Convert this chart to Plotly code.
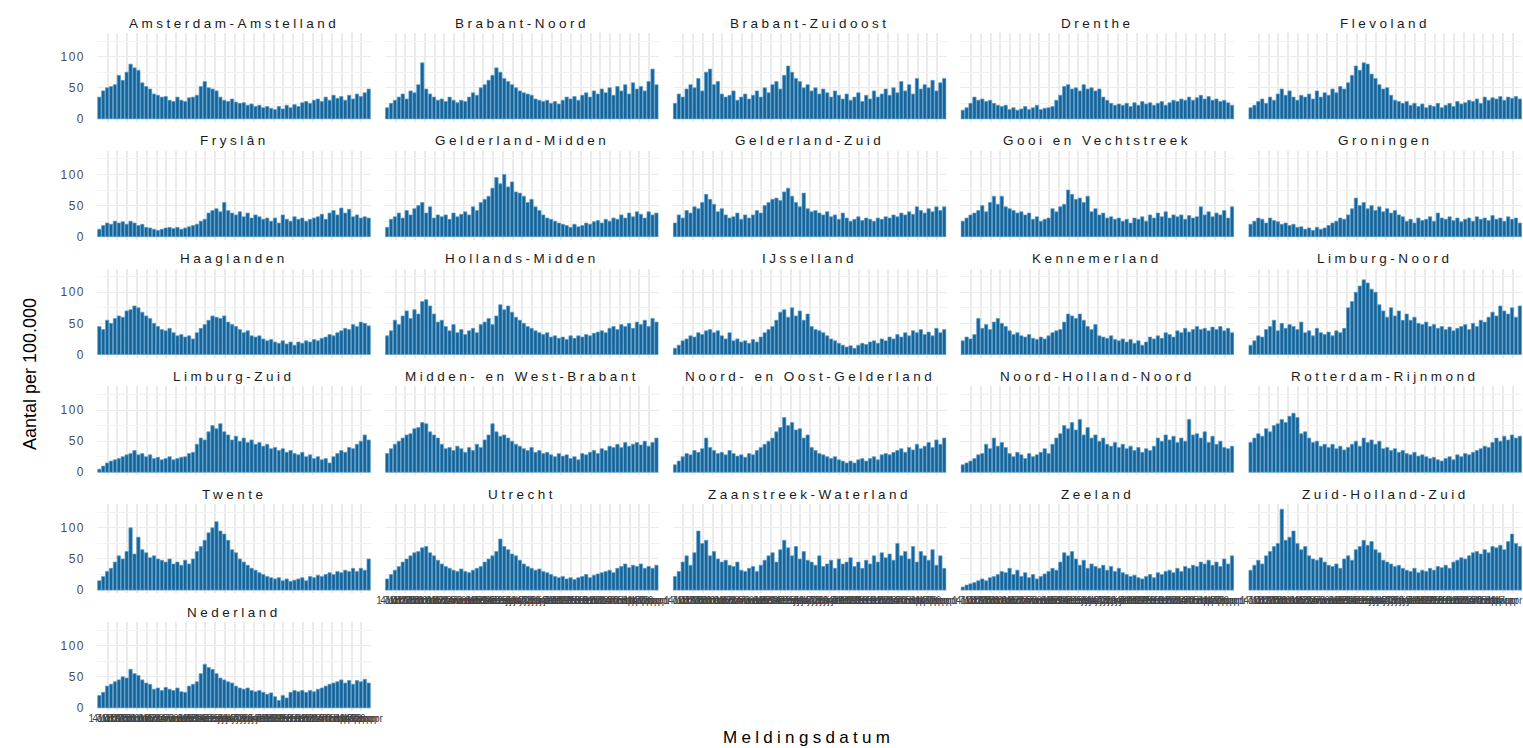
import datetime
import plotly.graph_objects as go

# ---------------- data (Aantal per 100.000, one bar per 3 days) ----------------
MAANDEN = ["jan", "feb", "mrt", "apr", "mei", "jun", "jul", "aug", "sep", "okt", "nov", "dec"]
START = datetime.date(2020, 10, 1)
N_DAYS = 70
datums = [START + datetime.timedelta(days=3 * i) for i in range(N_DAYS)]
tick_labels = [f"{d.day} {MAANDEN[d.month - 1]}" for d in datums]

amsterdam_amstelland = [35, 45, 50, 52, 55, 70, 62, 75, 88, 82, 78, 58, 52, 48, 40, 38, 35, 36, 30, 28,
                        35, 30, 28, 34, 35, 38, 52, 60, 50, 48, 45, 35, 30, 28, 32, 27, 25, 26, 22, 24,
                        20, 22, 18, 20, 17, 15, 20, 16, 22, 18, 23, 20, 26, 28, 25, 30, 32, 28, 35, 30,
                        38, 33, 36, 30, 38, 32, 40, 36, 42, 48]
brabant_noord = [18, 25, 30, 35, 40, 32, 45, 42, 55, 90, 48, 40, 35, 30, 32, 28, 35, 30, 26, 30,
                 28, 35, 42, 38, 50, 55, 62, 70, 82, 75, 65, 60, 55, 50, 45, 42, 40, 38, 32, 30,
                 28, 30, 25, 28, 24, 30, 35, 32, 36, 30, 38, 42, 35, 45, 40, 48, 42, 50, 38, 52,
                 45, 55, 40, 58, 48, 52, 45, 60, 80, 55]
brabant_zuidoost = [25, 40, 35, 48, 55, 50, 65, 45, 75, 80, 55, 60, 40, 35, 38, 45, 30, 35, 40, 32,
                    38, 45, 35, 50, 42, 55, 60, 48, 70, 85, 75, 65, 60, 50, 55, 45, 50, 40, 48, 42,
                    35, 45, 38, 32, 40, 30, 35, 42, 28, 38, 32, 45, 35, 40, 48, 38, 50, 42, 60, 45,
                    55, 40, 65, 48, 55, 50, 62, 45, 58, 65]
drenthe = [14, 18, 25, 35, 30, 32, 28, 30, 25, 22, 20, 22, 15, 18, 14, 16, 20, 15, 18, 22,
           15, 17, 18, 20, 30, 38, 52, 55, 48, 50, 45, 55, 48, 50, 45, 48, 35, 30, 25, 22,
           24, 22, 25, 20, 26, 22, 28, 24, 26, 22, 25, 28, 22, 26, 30, 28, 32, 30, 35, 30,
           34, 38, 32, 36, 30, 32, 28, 30, 26, 22]
flevoland = [18, 22, 28, 32, 25, 35, 30, 40, 48, 38, 45, 35, 30, 38, 35, 40, 32, 45, 35, 42,
             38, 48, 42, 52, 48, 58, 70, 85, 78, 90, 88, 72, 65, 55, 48, 50, 38, 30, 28, 25,
             28, 22, 25, 20, 24, 18, 22, 20, 25, 18, 22, 25, 20, 28, 24, 26, 30, 28, 32, 25,
             35, 30, 34, 32, 36, 30, 35, 33, 36, 32]
fryslan = [12, 18, 22, 20, 25, 22, 24, 20, 25, 22, 18, 20, 15, 14, 12, 10, 12, 14, 15, 13,
           15, 12, 14, 16, 18, 20, 25, 28, 38, 42, 45, 40, 55, 42, 38, 35, 40, 32, 38, 30,
           35, 32, 28, 30, 25, 30, 22, 35, 28, 25, 32, 28, 30, 25, 28, 30, 32, 36, 28, 38,
           42, 35, 46, 38, 44, 32, 35, 30, 32, 30]
gelderland_midden = [15, 28, 32, 38, 30, 42, 35, 45, 50, 55, 38, 48, 30, 35, 32, 35, 28, 38, 32, 36,
                     40, 35, 48, 42, 55, 60, 65, 78, 95, 85, 100, 80, 88, 72, 70, 65, 55, 60, 48, 42,
                     35, 30, 28, 25, 22, 20, 18, 15, 20, 16, 18, 22, 20, 24, 26, 22, 28, 25, 30, 28,
                     35, 30, 38, 32, 40, 36, 30, 40, 35, 38]
gelderland_zuid = [22, 35, 30, 42, 38, 48, 45, 55, 68, 60, 52, 40, 45, 35, 30, 32, 38, 28, 35, 30,
                   35, 42, 38, 50, 55, 60, 62, 58, 72, 78, 65, 55, 48, 70, 45, 40, 42, 38, 35, 40,
                   32, 35, 28, 38, 30, 25, 28, 32, 26, 30, 28, 25, 30, 28, 32, 30, 35, 32, 38, 35,
                   40, 36, 48, 42, 38, 45, 40, 48, 42, 48]
gooi_en_vechtstreek = [25, 30, 35, 38, 42, 50, 40, 55, 65, 52, 65, 48, 45, 42, 38, 40, 35, 38, 28, 32,
                       25, 28, 30, 45, 40, 48, 52, 75, 68, 60, 62, 55, 65, 40, 45, 35, 38, 30, 32, 28,
                       30, 25, 28, 22, 30, 28, 32, 25, 35, 30, 38, 32, 40, 30, 35, 32, 35, 28, 34, 30,
                       32, 48, 35, 40, 32, 38, 35, 42, 30, 48]
groningen = [20, 25, 30, 28, 22, 30, 26, 24, 20, 22, 18, 20, 15, 16, 12, 14, 10, 15, 12, 14,
             18, 22, 25, 30, 28, 35, 45, 62, 50, 55, 45, 50, 42, 48, 40, 45, 38, 42, 35, 32,
             25, 28, 22, 30, 26, 28, 32, 25, 38, 30, 28, 32, 26, 30, 24, 28, 30, 25, 32, 28,
             30, 26, 34, 28, 30, 25, 32, 28, 30, 22]
haaglanden = [45, 40, 55, 50, 58, 62, 60, 70, 72, 78, 75, 68, 62, 58, 50, 45, 40, 38, 42, 35,
              30, 32, 28, 30, 25, 35, 42, 48, 55, 62, 60, 58, 62, 52, 48, 45, 40, 35, 38, 30,
              28, 30, 25, 22, 24, 20, 18, 22, 17, 20, 15, 20, 18, 22, 20, 24, 22, 26, 28, 32,
              30, 35, 38, 42, 40, 48, 45, 52, 50, 46]
hollands_midden = [30, 38, 55, 48, 62, 70, 58, 72, 65, 85, 88, 78, 65, 52, 55, 45, 38, 48, 35, 40,
                   32, 38, 42, 35, 48, 52, 58, 48, 62, 80, 72, 78, 68, 60, 55, 50, 45, 42, 38, 35,
                   32, 35, 28, 30, 26, 28, 24, 30, 26, 30, 28, 32, 30, 34, 36, 38, 35, 42, 45, 40,
                   48, 45, 50, 42, 52, 48, 55, 45, 58, 52]
ijsselland = [10, 15, 22, 25, 30, 28, 35, 32, 38, 40, 35, 38, 30, 25, 35, 22, 25, 20, 22, 18,
              24, 20, 28, 35, 40, 45, 55, 68, 72, 60, 75, 62, 70, 55, 65, 45, 40, 38, 35, 30,
              25, 22, 18, 15, 12, 14, 10, 15, 18, 16, 20, 22, 18, 25, 22, 28, 25, 32, 28, 35,
              30, 38, 35, 40, 32, 36, 30, 42, 35, 40]
kennemerland = [22, 28, 25, 32, 58, 42, 48, 40, 52, 58, 50, 45, 38, 32, 35, 30, 28, 32, 26, 24,
                28, 25, 30, 35, 38, 40, 52, 65, 62, 58, 65, 55, 45, 40, 48, 30, 28, 26, 30, 24,
                22, 25, 20, 24, 18, 22, 15, 20, 28, 25, 30, 26, 35, 32, 28, 38, 35, 42, 36, 40,
                45, 40, 42, 38, 44, 40, 45, 38, 42, 35]
limburg_noord = [15, 22, 30, 28, 40, 45, 55, 38, 50, 42, 48, 45, 40, 52, 35, 38, 30, 42, 35, 32,
                 36, 30, 38, 35, 42, 75, 85, 100, 110, 120, 115, 105, 100, 80, 70, 60, 75, 62, 70, 55,
                 65, 55, 60, 50, 48, 52, 45, 48, 42, 45, 40, 44, 38, 42, 45, 48, 40, 50, 45, 55,
                 52, 60, 68, 62, 78, 70, 65, 75, 60, 78]
limburg_zuid = [5, 10, 15, 18, 20, 22, 25, 28, 30, 35, 28, 30, 25, 28, 22, 24, 20, 22, 25, 20,
                22, 24, 25, 30, 32, 45, 55, 52, 65, 75, 70, 78, 65, 60, 52, 58, 50, 55, 48, 52,
                45, 48, 42, 45, 38, 40, 35, 38, 32, 35, 30, 28, 32, 25, 28, 22, 25, 20, 22, 15,
                25, 30, 35, 32, 40, 38, 45, 50, 60, 52]
midden_en_west_brabant = [30, 38, 45, 50, 55, 60, 62, 70, 72, 80, 78, 65, 60, 55, 45, 38, 40, 35, 42, 38,
                          32, 40, 35, 45, 40, 52, 60, 78, 65, 58, 60, 55, 50, 45, 42, 38, 35, 40, 32, 35,
                          30, 32, 28, 25, 30, 26, 28, 22, 25, 20, 30, 28, 32, 35, 30, 38, 35, 42, 40, 45,
                          40, 48, 42, 45, 48, 44, 50, 42, 48, 55]
noord_en_oost_gelderland = [12, 18, 25, 30, 28, 35, 32, 38, 55, 40, 35, 30, 32, 28, 35, 30, 26, 28, 24, 30,
                            28, 35, 40, 45, 50, 55, 65, 72, 88, 75, 80, 68, 70, 55, 60, 40, 35, 30, 28, 25,
                            22, 25, 20, 18, 15, 18, 15, 20, 22, 18, 22, 25, 20, 28, 30, 28, 32, 35, 38, 32,
                            40, 36, 45, 38, 42, 48, 40, 52, 45, 55]
noord_holland_noord = [12, 15, 18, 22, 28, 30, 45, 38, 55, 42, 48, 40, 30, 25, 32, 28, 22, 30, 25, 28,
                       32, 38, 30, 45, 55, 62, 75, 70, 80, 68, 85, 60, 72, 55, 60, 50, 55, 45, 42, 48,
                       40, 45, 38, 42, 35, 40, 32, 38, 35, 42, 55, 50, 60, 52, 58, 48, 55, 50, 85, 60,
                       62, 55, 65, 48, 58, 45, 50, 40, 38, 42]
rotterdam_rijnmond = [48, 55, 62, 58, 70, 65, 75, 78, 85, 80, 90, 95, 88, 62, 65, 55, 48, 50, 42, 45,
                      40, 45, 38, 42, 36, 40, 45, 50, 42, 55, 48, 52, 45, 50, 38, 40, 35, 38, 32, 35,
                      30, 28, 32, 26, 28, 25, 22, 24, 20, 18, 22, 25, 20, 28, 25, 30, 28, 32, 35, 38,
                      42, 40, 48, 55, 50, 58, 52, 60, 55, 58]
twente = [15, 22, 30, 35, 45, 55, 50, 62, 100, 58, 85, 65, 60, 52, 55, 50, 48, 45, 50, 42,
          45, 40, 48, 42, 50, 62, 70, 80, 92, 100, 110, 95, 90, 80, 65, 60, 50, 45, 40, 35,
          32, 28, 25, 22, 20, 18, 20, 15, 18, 14, 16, 18, 20, 15, 22, 20, 24, 22, 25, 28,
          25, 30, 28, 32, 30, 35, 30, 35, 32, 50]
utrecht = [18, 25, 32, 38, 45, 50, 55, 60, 62, 68, 70, 60, 55, 48, 42, 38, 35, 32, 30, 34,
           30, 28, 32, 35, 38, 45, 50, 55, 62, 82, 70, 65, 58, 55, 48, 42, 38, 35, 32, 34,
           30, 28, 25, 22, 20, 22, 18, 20, 17, 20, 22, 25, 20, 24, 26, 28, 30, 32, 28, 35,
           38, 42, 36, 40, 38, 42, 35, 38, 35, 40]
zaanstreek_waterland = [22, 30, 45, 55, 40, 60, 95, 75, 80, 55, 62, 50, 45, 48, 40, 38, 45, 32, 30, 35,
                        38, 30, 40, 48, 55, 60, 45, 65, 80, 68, 55, 70, 50, 62, 48, 45, 40, 55, 38, 42,
                        48, 35, 50, 42, 45, 52, 38, 45, 35, 48, 42, 55, 45, 60, 52, 58, 48, 75, 55, 62,
                        50, 70, 45, 62, 55, 48, 65, 40, 55, 35]
zeeland = [5, 8, 10, 12, 15, 18, 15, 20, 22, 25, 30, 28, 35, 25, 32, 22, 28, 20, 25, 18,
           22, 26, 30, 35, 32, 45, 60, 55, 62, 50, 40, 48, 35, 42, 38, 35, 40, 32, 38, 30,
           35, 28, 25, 22, 24, 20, 18, 22, 25, 20, 28, 25, 30, 32, 28, 35, 30, 38, 35, 40,
           38, 45, 42, 48, 40, 45, 38, 50, 42, 55]
zuid_holland_zuid = [32, 40, 48, 42, 55, 62, 70, 75, 130, 80, 85, 95, 75, 65, 70, 55, 50, 48, 52, 45,
                     40, 38, 42, 35, 50, 55, 48, 65, 70, 80, 72, 78, 65, 60, 48, 45, 42, 38, 40, 35,
                     32, 30, 35, 28, 32, 30, 35, 32, 38, 36, 40, 35, 45, 48, 52, 50, 55, 60, 62, 58,
                     65, 60, 70, 68, 72, 65, 78, 90, 75, 70]
nederland = [20, 25, 35, 38, 42, 45, 50, 48, 62, 55, 52, 45, 40, 38, 30, 32, 28, 33, 30, 28,
             32, 26, 25, 35, 38, 42, 55, 70, 65, 62, 55, 48, 45, 42, 40, 35, 32, 30, 32, 28,
             26, 28, 25, 22, 24, 18, 12, 20, 16, 25, 28, 26, 28, 25, 28, 26, 30, 32, 35, 38,
             40, 42, 45, 40, 44, 38, 44, 42, 46, 40]

regio_namen = ["Amsterdam-Amstelland", "Brabant-Noord", "Brabant-Zuidoost", "Drenthe", "Flevoland",
               "Fryslân", "Gelderland-Midden", "Gelderland-Zuid", "Gooi en Vechtstreek", "Groningen",
               "Haaglanden", "Hollands-Midden", "IJsselland", "Kennemerland", "Limburg-Noord",
               "Limburg-Zuid", "Midden- en West-Brabant", "Noord- en Oost-Gelderland",
               "Noord-Holland-Noord", "Rotterdam-Rijnmond", "Twente", "Utrecht",
               "Zaanstreek-Waterland", "Zeeland", "Zuid-Holland-Zuid", "Nederland"]
regio_waarden = [amsterdam_amstelland, brabant_noord, brabant_zuidoost, drenthe, flevoland,
                 fryslan, gelderland_midden, gelderland_zuid, gooi_en_vechtstreek, groningen,
                 haaglanden, hollands_midden, ijsselland, kennemerland, limburg_noord,
                 limburg_zuid, midden_en_west_brabant, noord_en_oost_gelderland,
                 noord_holland_noord, rotterdam_rijnmond, twente, utrecht,
                 zaanstreek_waterland, zeeland, zuid_holland_zuid, nederland]

y_ticks = [0, 50, 100]

# ---------------- layout / style ----------------
W, H = 1523, 748
BAR = "#16659a"
BAR_EDGE = "#5f9fcb"
GRID = "#ebebeb"
FONT = "Liberation Sans, Arial, sans-serif"
NCOL = 5


def spaced(text, px):
    return f"<span style='letter-spacing:{px}px'>{text}</span>"


fig = go.Figure()
layout = dict(
    width=W, height=H,
    margin=dict(l=0, r=0, t=0, b=0, autoexpand=False),
    paper_bgcolor="white", plot_bgcolor="white",
    bargap=0.14, showlegend=False,
    font=dict(family=FONT),
)
annotations = []
idx = list(range(N_DAYS))

for k, (naam, waarden) in enumerate(zip(regio_namen, regio_waarden)):
    r, c = divmod(k, NCOL)
    sfx = "" if k == 0 else str(k + 1)
    fig.add_trace(go.Bar(
        x=idx, y=waarden, marker=dict(color=BAR, line=dict(width=0.7, color=BAR_EDGE)),
        xaxis="x" + sfx, yaxis="y" + sfx, name=naam,
        customdata=tick_labels, hovertemplate="%{customdata}: %{y}<extra>" + naam + "</extra>",
    ))
    left = 97 + 287.8 * c
    right = left + 274
    top = 33 + 117.8 * r
    bot = top + 89
    bottom_of_col = (k == 25) or (r == 4 and c >= 1)
    layout["xaxis" + sfx] = dict(
        domain=[left / W, right / W], anchor="y" + sfx, automargin=False,
        range=[-0.6, N_DAYS - 0.4], showgrid=False, zeroline=False, showline=False,
        tickmode="array", tickvals=idx, ticktext=tick_labels, tickangle=0,
        showticklabels=bottom_of_col, ticks="",
        tickfont=dict(size=10, color="#444444", family=FONT),
        minor=dict(tickmode="linear", tick0=-0.35, dtick=2.5, showgrid=True,
                   gridcolor=GRID, gridwidth=1.6, ticks=""),
    )
    layout["yaxis" + sfx] = dict(
        domain=[1 - bot / H, 1 - top / H], anchor="x" + sfx, automargin=False,
        range=[-5, 138], tickmode="array", tickvals=y_ticks,
        ticktext=[spaced(str(v), 1.5) for v in y_ticks],
        showgrid=True, gridcolor=GRID, gridwidth=1.4, zeroline=False, showline=False,
        showticklabels=(c == 0), ticks="", ticklabelstandoff=11,
        tickfont=dict(size=12, color="#4d4d4d", family=FONT),
        minor=dict(tickmode="array", tickvals=[25, 75, 125], showgrid=True,
                   gridcolor="#f3f3f3", gridwidth=0.8, ticks=""),
    )
    annotations.append(dict(
        text=spaced(naam, 3.5), x=(left + right) / 2 / W, y=1 - (top - 10) / H,
        xref="paper", yref="paper", xanchor="center", yanchor="middle",
        showarrow=False, font=dict(size=13.5, color="#1a1a1a", family=FONT),
    ))

annotations.append(dict(
    text="Aantal per 100.000", x=30 / W, y=1 - 374 / H, xref="paper", yref="paper",
    textangle=-90, showarrow=False, xanchor="center", yanchor="middle",
    font=dict(size=18, color="black", family=FONT),
))
annotations.append(dict(
    text=spaced("Meldingsdatum", 4.3), x=809 / W, y=1 - 737 / H, xref="paper", yref="paper",
    showarrow=False, xanchor="center", yanchor="middle",
    font=dict(size=17, color="black", family=FONT),
))
layout["annotations"] = annotations
fig.update_layout(**layout)
fig.write_html(
    "out.html",
    config={"displayModeBar": False},
    post_script="document.body.style.margin='0';document.body.style.overflow='hidden';",
)
